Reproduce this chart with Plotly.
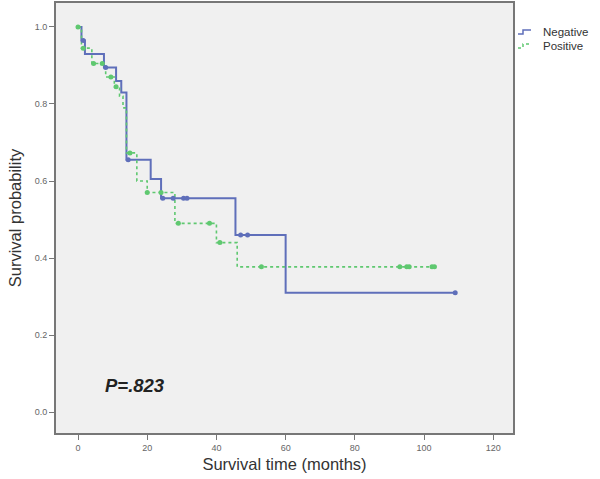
import plotly.graph_objects as go
import numpy as np

# Negative group (blue, solid) - step function
neg_time = [0, 1, 2, 7.5, 11, 12.5, 14, 21, 24, 45.5, 60, 109]
neg_surv = [1.0, 0.965, 0.93, 0.895, 0.86, 0.83, 0.655, 0.605, 0.555, 0.46, 0.31, 0.31]
neg_cens = [1.5, 8, 14.5, 24.5, 27.5, 30.5, 31.5, 47, 49, 109]

# Positive group (green, dashed) - step function
pos_time = [0, 1, 4, 8, 10.5, 12, 13, 14, 17, 20, 28, 40, 46, 103.5]
pos_surv = [1.0, 0.945, 0.905, 0.87, 0.845, 0.82, 0.79, 0.673, 0.60, 0.57, 0.49, 0.44, 0.377, 0.377]
pos_cens = [0, 1.5, 4.5, 7, 9.5, 11, 15, 20, 24, 29, 38, 41, 53, 93, 95, 95.7, 102.3, 103]

groups = ["Negative", "Positive"]
x_ticks = [0, 20, 40, 60, 80, 100, 120]
y_ticks = [0.0, 0.2, 0.4, 0.6, 0.8, 1.0]
p_text = "P=.823"

BLUE = "#5f6fba"
GREEN = "#5fc870"
FONT = "Liberation Sans, Arial"

W, H = 600, 479
ML, MR, MT, MB = 56, 87, 3, 46
PW, PH = W - ML - MR, H - MT - MB


def step_value(times, surv, t):
    idx = np.searchsorted(times, t, side="right") - 1
    return surv[max(idx, 0)]


def px_to_paper(x, y):
    return (x - ML) / PW, (H - MB - y) / PH


fig = go.Figure()
fig.add_trace(go.Scatter(x=neg_time, y=neg_surv, mode="lines", line_shape="hv",
                         line=dict(color=BLUE, width=2), name=groups[0], showlegend=False))
fig.add_trace(go.Scatter(x=pos_time, y=pos_surv, mode="lines", line_shape="hv",
                         line=dict(color=GREEN, width=1.6, dash="dot"), name=groups[1], showlegend=False))
fig.add_trace(go.Scatter(x=neg_cens, y=[step_value(neg_time, neg_surv, t) for t in neg_cens],
                         mode="markers", marker=dict(color=BLUE, size=5), showlegend=False))
fig.add_trace(go.Scatter(x=pos_cens, y=[step_value(pos_time, pos_surv, t) for t in pos_cens],
                         mode="markers", marker=dict(color=GREEN, size=5), showlegend=False))

fig.add_annotation(x=16.5, y=0.07, text="<i><b>" + p_text + "</b></i>", showarrow=False,
                   font=dict(family=FONT, size=18.5, color="#222"))

# Manual legend (outside the plot on the right)
for i, (name, col, dash) in enumerate([(groups[0], BLUE, None), (groups[1], GREEN, "dot")]):
    yc = 32 + i * 14
    pts = [px_to_paper(518, yc + 2), px_to_paper(523, yc + 2),
           px_to_paper(523, yc - 2), px_to_paper(531, yc - 2)]
    path = "M " + " L ".join(f"{a:.5f},{b:.5f}" for a, b in pts)
    fig.add_shape(type="path", path=path, xref="paper", yref="paper",
                  line=dict(color=col, width=1.5, dash=dash))
    tx, ty = px_to_paper(541, yc)
    fig.add_annotation(x=tx, y=ty, xref="paper", yref="paper", text=name, showarrow=False,
                       xanchor="left", yanchor="middle",
                       font=dict(family=FONT, size=11.5, color="#333"))

axis_common = dict(showline=True, linecolor="#777", linewidth=2, mirror=True,
                   ticks="outside", ticklen=5, tickcolor="#777", tickwidth=1,
                   showgrid=False, zeroline=False,
                   tickfont=dict(family=FONT, size=9, color="#666"))

fig.update_xaxes(range=[-6.36, 125.7], tickvals=x_ticks, ticktext=[str(v) for v in x_ticks],
                 title=dict(text="Survival time (months)", standoff=7,
                            font=dict(family=FONT, size=16.5, color="#333")),
                 **axis_common)
fig.update_yaxes(range=[-0.0545, 1.0623], tickvals=y_ticks, ticktext=[f"{v:.1f}" for v in y_ticks],
                 title=dict(text="Survival probability", standoff=9,
                            font=dict(family=FONT, size=16.5, color="#333")),
                 **axis_common)

fig.update_layout(
    width=W, height=H,
    margin=dict(l=ML, r=MR, t=MT, b=MB, autoexpand=False),
    plot_bgcolor="#f0f0f0", paper_bgcolor="white",
    showlegend=False,
)

fig.write_html("out.html", config={"displayModeBar": False},
               post_script="document.body.style.margin='0';document.body.style.overflow='hidden';")
